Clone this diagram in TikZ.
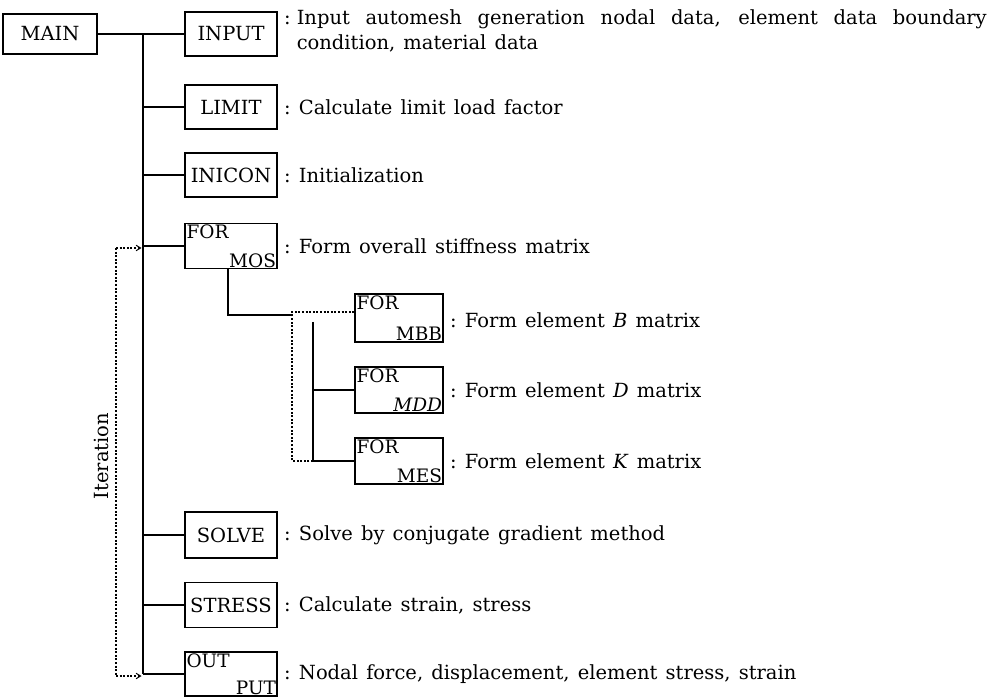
\documentclass[tikz,border=0pt]{standalone}
\usepackage{fontspec}
\setmainfont{DejaVu Serif}
\usetikzlibrary{arrows.meta}
\newcommand\dsz{\fontsize{19.5}{25}\selectfont\spaceskip=0.42em plus 0.4em minus 0.1em\relax}
\newcommand\dss{\fontsize{18.5}{20}\selectfont}
\begin{document}
\begin{tikzpicture}[x=1pt,y=-1pt,
  box/.style={draw,line width=1.3pt,minimum width=92pt,minimum height=44pt,inner sep=0pt,font=\dsz},
  subbox/.style={box,minimum width=88pt,minimum height=46pt},
  desc/.style={anchor=west,inner sep=0pt,font=\dsz},
  upl/.style={anchor=north west,inner sep=2pt,font=\dss},
  lor/.style={anchor=south east,inner sep=1.5pt,font=\dss},
  ln/.style={line width=1.3pt},
  dots/.style={line width=1.1pt,dash pattern=on 2pt off 1.6pt},
  arr/.style={dots,-{Straight Barb[length=4.5pt,width=5.5pt,line width=1pt]}}]
\useasboundingbox (0,0) rectangle (994,700);

% main column boxes
\node[box,minimum width=94pt,minimum height=40pt] (main) at (50,34) {MAIN};
\node[box] (input) at (231,34) {INPUT};
\node[box] (limit) at (231,107) {LIMIT};
\node[box] (inicon) at (231,175) {INICON};
\node[box,minimum height=45pt] (formos) at (231,246) {};
\node[upl] (formosa) at (formos.north west) {FOR};
\node[lor] (formosb) at (formos.south east) {MOS};
\node[box,minimum height=46pt] (solve) at (231,535) {SOLVE};
\node[box,minimum height=45pt] (stress) at (231,605) {STRESS};
\node[box,minimum height=44pt] (output) at (231,674) {};
\node[upl] (outputa) at (output.north west) {OUT};
\node[lor] (outputb) at (output.south east) {PUT};

% sub boxes
\node[subbox,minimum height=48pt] (formbb) at (399,318) {};
\node[upl] (formbba) at (formbb.north west) {FOR};
\node[lor] (formbbb) at (formbb.south east) {MBB};
\node[subbox] (formdd) at (399,390) {};
\node[upl] (formdda) at (formdd.north west) {FOR};
\node[lor] (formddb) at (formdd.south east) {\itshape MDD};
\node[subbox] (formes) at (399,461) {};
\node[upl] (formesa) at (formes.north west) {FOR};
\node[lor] (formesb) at (formes.south east) {MES};

% descriptions
\node[anchor=north west,inner sep=0pt,font=\dsz] (inputd) at (284,9)
  {:\hspace{6pt}\parbox[t]{690pt}{\makebox[690pt][s]{Input automesh generation nodal data, element data boundary}\\condition, material data}};
\node[desc] (limitd) at (284,107) {:\ Calculate limit load factor};
\node[desc] (iniconda) at (284,175) {:\ Initialization};
\node[desc] (formosd) at (284,246) {:\ Form overall stiffness matrix};
\node[desc] (formbbd) at (450,320) {:\ Form element \textit{B} matrix};
\node[desc] (formddd) at (450,390) {:\ Form element \textit{D} matrix};
\node[desc] (formesd) at (450,461) {:\ Form element \textit{K} matrix};
\node[desc] (solved) at (284,535) {:\ Solve by conjugate gradient method};
\node[desc] (stressd) at (284,605) {:\ Calculate strain, stress};
\node[desc] (outputd) at (284,674) {:\ Nodal force, displacement, element stress, strain};

% main tree
\coordinate (ttop) at (143,34);
\coordinate (tbot) at (143,674);
\draw[ln] (main.east) -- (input.west);
\draw[ln] (ttop) -- (tbot);
\foreach \n in {limit,inicon,formos,solve,stress,output}
  \draw[ln] (\n.west -| ttop) -- (\n.west);

% sub tree
\coordinate (stop) at (228,268.5);
\coordinate (scorner) at (228,315);
\coordinate (sjoin) at (293,315);
\coordinate (strunk) at (313,322);
\coordinate (sbot) at (313,461);
\draw[ln] (stop) -- (scorner) -- (sjoin);
\draw[ln] (strunk) -- (sbot);
\draw[ln] (formdd.west -| strunk) -- (formdd.west);
\draw[ln] (formes.west -| strunk) -- (formes.west);

% inner iteration loop
\coordinate (il1) at (292,312);
\coordinate (il2) at (292,461);
\draw[dots] (sbot) -- (il2) -- (il1) -- (il1 -| formbb.west);

% outer iteration loop
\coordinate (it1) at (116,248);
\coordinate (it2) at (116,676);
\draw[dots] (it1) -- (it2);
\draw[arr] (it1) -- ([xshift=-1.5pt]it1 -| ttop);
\draw[arr] (it2) -- ([xshift=-1.5pt]it2 -| ttop);
\node[rotate=90,font=\dsz,inner sep=0pt] (iter) at (101,456) {Iteration};
\end{tikzpicture}
\end{document}
